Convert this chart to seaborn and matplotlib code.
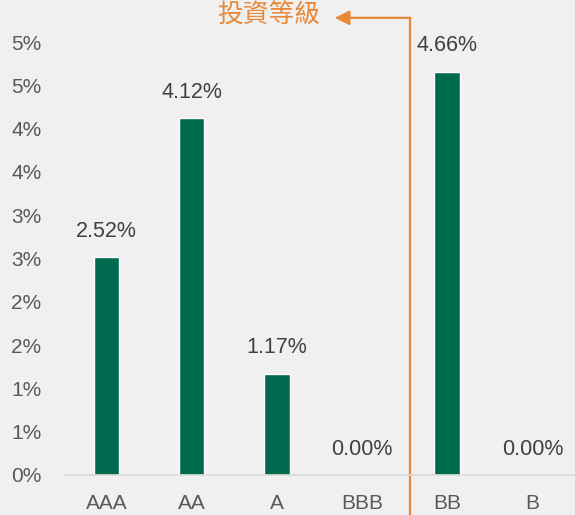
import matplotlib
matplotlib.use('Agg')
import matplotlib.pyplot as plt
import seaborn as sns

# default rates by credit rating (%)
ratings = ['AAA', 'AA', 'A', 'BBB', 'BB', 'B']
rates = [2.52, 4.12, 1.17, 0.00, 4.66, 0.00]

# y ticks every 0.5 but shown with no decimals
ytick_vals = [0, 0.5, 1.0, 1.5, 2.0, 2.5, 3.0, 3.5, 4.0, 4.5, 5.0]
ytick_labels = ['0%', '1%', '1%', '2%', '2%', '3%', '3%', '4%', '4%', '5%', '5%']

note = '投資等級'

sns.set_style('white')
plt.rcParams['font.family'] = ['Liberation Sans', 'DejaVu Sans']

bg = '#f0f0f0'
green = '#006a4e'
orange = '#e8893a'
grey = '#595959'

fig = plt.figure(figsize=(5.75, 5.15), dpi=100, facecolor=bg)
ax = fig.add_axes([0.111, 0.0777, 0.889, 0.891], facecolor=bg)

sns.barplot(x=ratings, y=rates, color=green, width=0.3, saturation=1, ax=ax)

# value labels above bars
ax.bar_label(ax.containers[0], labels=[f'{v:.2f}%' for v in rates],
             padding=11, fontsize=15.5, color='#404040')

ax.set_ylim(0, 5.3)
ax.set_xlim(-0.5, 5.5)
ax.set_yticks(ytick_vals)
ax.set_yticklabels(ytick_labels)
ax.tick_params(axis='both', length=0, labelsize=15, labelcolor=grey)
ax.tick_params(axis='x', pad=14)
ax.tick_params(axis='y', pad=16)
ax.set(xlabel='', ylabel='')

sns.despine(ax=ax, left=True)
ax.spines['bottom'].set_color('#d9d9d9')
ax.spines['bottom'].set_linewidth(1.2)

# investment grade divider with arrow
xdiv = 3.56
ytop = 5.28
ax.plot([xdiv, xdiv], [-0.5, ytop], color=orange, lw=1.6, clip_on=False)
ax.annotate('', xy=(2.68, ytop), xytext=(xdiv + 0.01, ytop),
            arrowprops=dict(arrowstyle='-|>', color=orange, lw=1.6,
                            mutation_scale=22, shrinkA=0, shrinkB=0),
            annotation_clip=False)
ax.text(1.9, ytop + 0.02, note, color=orange, fontsize=18.5,
        family=['Noto Sans CJK TC', 'DejaVu Sans'],
        ha='center', va='center', clip_on=False)

plt.savefig('out.png', dpi=100, facecolor=bg)
